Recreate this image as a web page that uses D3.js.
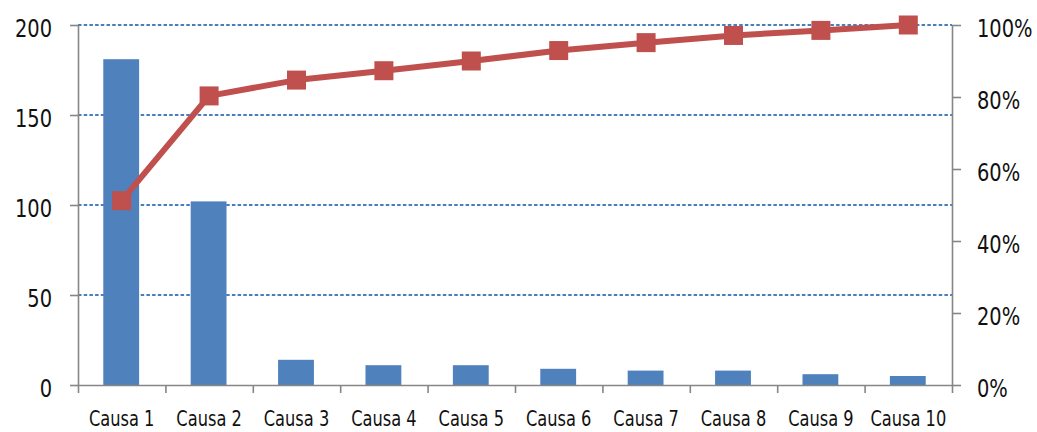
<!DOCTYPE html>
<html>
<head>
<meta charset="utf-8">
<script src="https://cdn.jsdelivr.net/npm/d3@7"></script>
<style>
  html, body { margin: 0; padding: 0; background: #fff; }
  svg { display: block; }
  text { font-family: "DejaVu Sans Condensed", "DejaVu Sans", sans-serif; fill: #111; }
</style>
</head>
<body>
<svg id="chart" width="1037" height="432"></svg>
<script>
// ---- data ----
const categories = ["Causa 1","Causa 2","Causa 3","Causa 4","Causa 5","Causa 6","Causa 7","Causa 8","Causa 9","Causa 10"];
const counts = [181, 102, 14, 11, 11, 9, 8, 8, 6, 5];
const cumulativePct = [0.512, 0.803, 0.847, 0.873, 0.900, 0.929, 0.951, 0.971, 0.985, 1.0];
const leftTicks = [0, 50, 100, 150, 200];
const rightTicks = [0, 0.2, 0.4, 0.6, 0.8, 1.0];

(function () {
// ---- layout ----
const svg = d3.select("#chart");
const pLeft = 78, pRight = 952, pTop = 25, pBottom = 385;
const axisColor = "#868686";
const barColor = "#4F81BD";
const lineColor = "#C0504D";

const x = d3.scaleBand().domain(categories).range([pLeft, pRight]).padding(0);
const yL = d3.scaleLinear().domain([0, 200]).range([pBottom, pTop]);
const yR = d3.scaleLinear().domain([0, 1]).range([pBottom, pTop]);

// gridlines
svg.append("g").selectAll("line")
  .data(leftTicks.filter(d => d > 0))
  .join("line")
  .attr("x1", pLeft).attr("x2", pRight)
  .attr("y1", d => yL(d)).attr("y2", d => yL(d))
  .attr("stroke", "#4A7EBB")
  .attr("stroke-width", 1.9)
  .attr("stroke-dasharray", "3.5,2.2");

// bars
const barFrac = 0.41;
svg.append("g").selectAll("rect")
  .data(categories)
  .join("rect")
  .attr("x", d => x(d) + x.bandwidth() * (1 - barFrac) / 2 - 0.5)
  .attr("width", x.bandwidth() * barFrac)
  .attr("y", (d, i) => yL(counts[i]))
  .attr("height", (d, i) => yL(0) - yL(counts[i]))
  .attr("fill", barColor);

// axes
function styleAxis(g) {
  g.selectAll("path.domain").attr("stroke", axisColor).attr("stroke-width", 1.6);
  g.selectAll(".tick line").attr("stroke", axisColor).attr("stroke-width", 1.6);
}

const sxY = 0.9;
const gL = svg.append("g").attr("transform", `translate(${pLeft},0)`)
  .call(d3.axisLeft(yL).tickValues(leftTicks).tickSize(8).tickSizeOuter(0).tickFormat(d3.format("d")));
styleAxis(gL);
gL.selectAll(".tick text")
  .attr("font-size", 24)
  .attr("x", -26 / sxY)
  .attr("dy", 0)
  .attr("y", 11)
  .attr("transform", `scale(${sxY},1)`)
  .attr("fill", "#111");

const gR = svg.append("g").attr("transform", `translate(${pRight},0)`)
  .call(d3.axisRight(yR).tickValues(rightTicks).tickSize(9).tickSizeOuter(0).tickFormat(d3.format(".0%")));
styleAxis(gR);
gR.selectAll(".tick text")
  .attr("font-size", 24)
  .attr("x", 25 / sxY)
  .attr("dy", 0)
  .attr("y", 11)
  .attr("transform", `scale(${sxY},1)`)
  .attr("fill", "#111");

// x axis: ticks at band boundaries
const xb = d3.scaleLinear().domain([0, categories.length]).range([pLeft, pRight]);
const gX = svg.append("g").attr("transform", `translate(0,${pBottom})`)
  .call(d3.axisBottom(xb).tickValues(d3.range(0, categories.length + 1)).tickSize(8).tickSizeOuter(0).tickFormat(""));
styleAxis(gX);

const sxX = 0.84;
svg.append("g").selectAll("text")
  .data(categories)
  .join("text")
  .attr("transform", d => `translate(${x(d) + x.bandwidth() / 2},${pBottom + 41}) scale(${sxX},1)`)
  .attr("text-anchor", "middle")
  .attr("font-size", 21.5)
  .text(d => d);

// cumulative line
const cx = d => x(d) + x.bandwidth() / 2;
const line = d3.line().x((d, i) => cx(categories[i])).y(d => yR(d));
svg.append("path")
  .datum(cumulativePct)
  .attr("d", line)
  .attr("fill", "none")
  .attr("stroke", lineColor)
  .attr("stroke-width", 6)
  .attr("stroke-linejoin", "round");

const m = 19;
svg.append("g").selectAll("rect")
  .data(cumulativePct)
  .join("rect")
  .attr("x", (d, i) => cx(categories[i]) - m / 2)
  .attr("y", d => yR(d) - m / 2)
  .attr("width", m).attr("height", m)
  .attr("fill", lineColor);
})();
</script>
</body>
</html>
